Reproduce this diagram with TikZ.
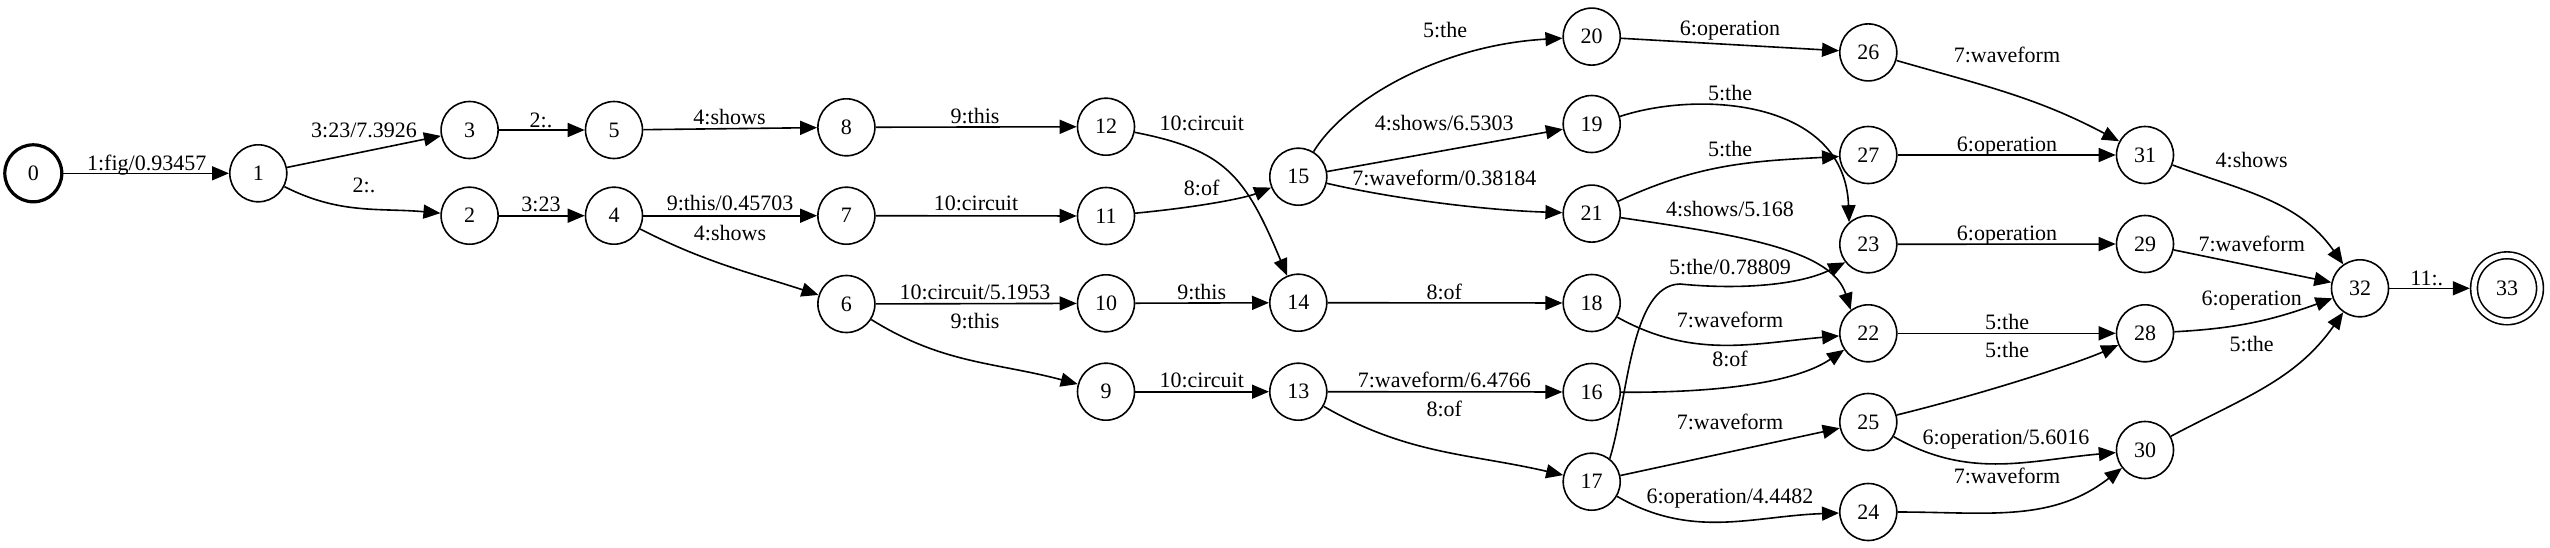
\documentclass[tikz,border=0pt]{standalone}
\usepackage{fontspec}
\setmainfont{Liberation Serif}
\usetikzlibrary{arrows.meta}
\begin{document}
\begin{tikzpicture}[x=0.5pt,y=0.5pt,
  st/.style={draw, circle, line width=0.8pt, minimum size=28.5pt, inner sep=0pt, font=\fontsize{11}{13}\selectfont},
  fin/.style={st, double, double distance=2.6pt, minimum size=33pt, outer sep=2.1pt},
  lab/.style={inner sep=0pt, font=\fontsize{11}{13}\selectfont, text height=0.68em, text depth=0pt},
  e/.style={line width=0.8pt, -{Triangle[length=8.5pt,width=7pt]}},
]
\useasboundingbox (0,0) rectangle (2550,-547);
% states
\node[st, line width=1.6pt] (n0) at (33.3,-173.3) {0};
\node[st] (n1) at (258.3,-173.3) {1};
\node[st] (n3) at (469.6,-130) {3};
\node[st] (n2) at (469.6,-215.7) {2};
\node[st] (n5) at (614,-130) {5};
\node[st] (n4) at (614,-215.7) {4};
\node[st] (n8) at (846.4,-127.3) {8};
\node[st] (n7) at (846.4,-215.7) {7};
\node[st] (n6) at (846.4,-304) {6};
\node[st] (n12) at (1106,-126.7) {12};
\node[st] (n11) at (1106,-216) {11};
\node[st] (n10) at (1106,-303.3) {10};
\node[st] (n9) at (1106,-391.7) {9};
\node[st] (n15) at (1298.3,-176.7) {15};
\node[st] (n14) at (1298.3,-302.7) {14};
\node[st] (n13) at (1298.3,-391.7) {13};
\node[st] (n20) at (1591.7,-36.6) {20};
\node[st] (n19) at (1591.7,-124) {19};
\node[st] (n21) at (1591.7,-213.6) {21};
\node[st] (n18) at (1591.7,-303) {18};
\node[st] (n16) at (1591.7,-392) {16};
\node[st] (n17) at (1591.7,-481.7) {17};
\node[st] (n26) at (1868.3,-52.4) {26};
\node[st] (n27) at (1868.3,-155) {27};
\node[st] (n23) at (1868.3,-244.3) {23};
\node[st] (n22) at (1868.3,-333.3) {22};
\node[st] (n25) at (1868.3,-422) {25};
\node[st] (n24) at (1868.3,-512) {24};
\node[st] (n31) at (2145,-155) {31};
\node[st] (n29) at (2145,-244) {29};
\node[st] (n28) at (2145,-333.3) {28};
\node[st] (n30) at (2145,-450) {30};
\node[st] (n32) at (2360,-288.3) {32};
\node[fin] (n33) at (2507,-288.3) {33};
% arcs
\draw[e] (n0) -- (n1);
\draw[e] (n1) -- (n3);
\draw[e] (n1) to[out=-27,in=175] (n2);
\draw[e] (n3) -- (n5);
\draw[e] (n2) -- (n4);
\draw[e] (n5) -- (n8);
\draw[e] (n8) -- (n12);
\draw[e] (n12) .. controls (1225,-150) and (1245,-175) .. (n14);
\draw[e] (n4) -- (n7);
\draw[e] (n4) to[out=-27,in=162] (n6);
\draw[e] (n7) -- (n11);
\draw[e] (n11) .. controls (1200,-207) and (1245,-198) .. (n15);
\draw[e] (n6) -- (n10);
\draw[e] (n6) to[out=-32,in=165] (n9);
\draw[e] (n10) -- (n14);
\draw[e] (n9) -- (n13);
\draw[e] (n15) .. controls (1345,-100) and (1440,-45) .. (n20);
\draw[e] (n15) -- (n19);
\draw[e] (n15) .. controls (1390,-198) and (1480,-210) .. (n21);
\draw[e] (n20) -- (n26);
\draw[e] (n19.15) .. controls (1700,-90) and (1845,-100) .. (n23.131);
\draw[e] (n21) to[out=25,in=183] (n27);
\draw[e] (n21.352) .. controls (1740,-235) and (1832,-250) .. (n22.127);
\draw[e] (n17.52) .. controls (1628,-400) and (1630,-285) .. (1680,-284) .. controls (1740,-290) and (1800,-285) .. (n23.218);
\draw[e] (n14) -- (n18);
\draw[e] (n18) to[out=-29,in=185] (n22);
\draw[e] (n16) .. controls (1730,-393) and (1800,-380) .. (n22);
\draw[e] (n13) -- (n16);
\draw[e] (n13) to[out=-30,in=167] (n17);
\draw[e] (n17) -- (n25);
\draw[e] (n17) to[out=-30,in=182] (n24);
\draw[e] (n26) to[out=-16,in=152] (n31);
\draw[e] (n27) -- (n31);
\draw[e] (n23) -- (n29);
\draw[e] (n22) -- (n28);
\draw[e] (n25) .. controls (1990,-392) and (2080,-362) .. (n28);
\draw[e] (n25) to[out=-30,in=185] (n30);
\draw[e] (n24) to[out=0,in=218] (n30);
\draw[e] (n31) to[out=-20,in=125] (n32);
\draw[e] (n29) -- (n32);
\draw[e] (n28) to[out=3,in=200] (n32);
\draw[e] (n30) to[out=28,in=235] (n32);
\draw[e] (n32) -- (n33);
% labels
\node[lab] (l1) at (146.7,-163.3) {1:fig/0.93457};
\node[lab] (l2) at (364,-131) {3:23/7.3926};
\node[lab] (l3) at (364,-186) {2:.};
\node[lab] (l4) at (541,-120.7) {2:.};
\node[lab] (l5) at (541,-205) {3:23};
\node[lab] (l6) at (729.5,-117.3) {4:shows};
\node[lab] (l7) at (975,-116.7) {9:this};
\node[lab] (l8) at (1201.7,-123.3) {10:circuit};
\node[lab] (l9) at (730,-203.3) {9:this/0.45703};
\node[lab] (l10) at (730,-233.3) {4:shows};
\node[lab] (l11) at (976,-203.3) {10:circuit};
\node[lab] (l12) at (1201.7,-188.3) {8:of};
\node[lab] (l13) at (975,-292.7) {10:circuit/5.1953};
\node[lab] (l14) at (975,-321.7) {9:this};
\node[lab] (l15) at (1201.7,-292.3) {9:this};
\node[lab] (l16) at (1201.7,-381) {10:circuit};
\node[lab] (l17) at (1445,-30.7) {5:the};
\node[lab] (l18) at (1444.3,-123.3) {4:shows/6.5303};
\node[lab] (l19) at (1444.3,-179) {7:waveform/0.38184};
\node[lab] (l20) at (1730,-28.6) {6:operation};
\node[lab] (l21) at (1730,-93.5) {5:the};
\node[lab] (l22) at (1730,-149.4) {5:the};
\node[lab] (l23) at (1730,-209.4) {4:shows/5.168};
\node[lab] (l24) at (1730,-268) {5:the/0.78809};
\node[lab] (l25) at (1444.3,-292.3) {8:of};
\node[lab] (l26) at (1730,-320.4) {7:waveform};
\node[lab] (l27) at (1730,-359.5) {8:of};
\node[lab] (l28) at (1444.3,-381) {7:waveform/6.4766};
\node[lab] (l29) at (1444.3,-409.3) {8:of};
\node[lab] (l30) at (1730,-422.3) {7:waveform};
\node[lab] (l31) at (1730,-496.3) {6:operation/4.4482};
\node[lab] (l32) at (2007,-55.8) {7:waveform};
\node[lab] (l33) at (2007,-144.9) {6:operation};
\node[lab] (l34) at (2007,-233.9) {6:operation};
\node[lab] (l35) at (2007,-322.8) {5:the};
\node[lab] (l36) at (2007,-350.5) {5:the};
\node[lab] (l37) at (2006,-437.6) {6:operation/5.6016};
\node[lab] (l38) at (2007,-476.4) {7:waveform};
\node[lab] (l39) at (2251.7,-160.6) {4:shows};
\node[lab] (l40) at (2251.7,-244.3) {7:waveform};
\node[lab] (l41) at (2251.7,-298.4) {6:operation};
\node[lab] (l42) at (2251.7,-344.9) {5:the};
\node[lab] (l43) at (2426.7,-278.3) {11:.};
\end{tikzpicture}
\end{document}
